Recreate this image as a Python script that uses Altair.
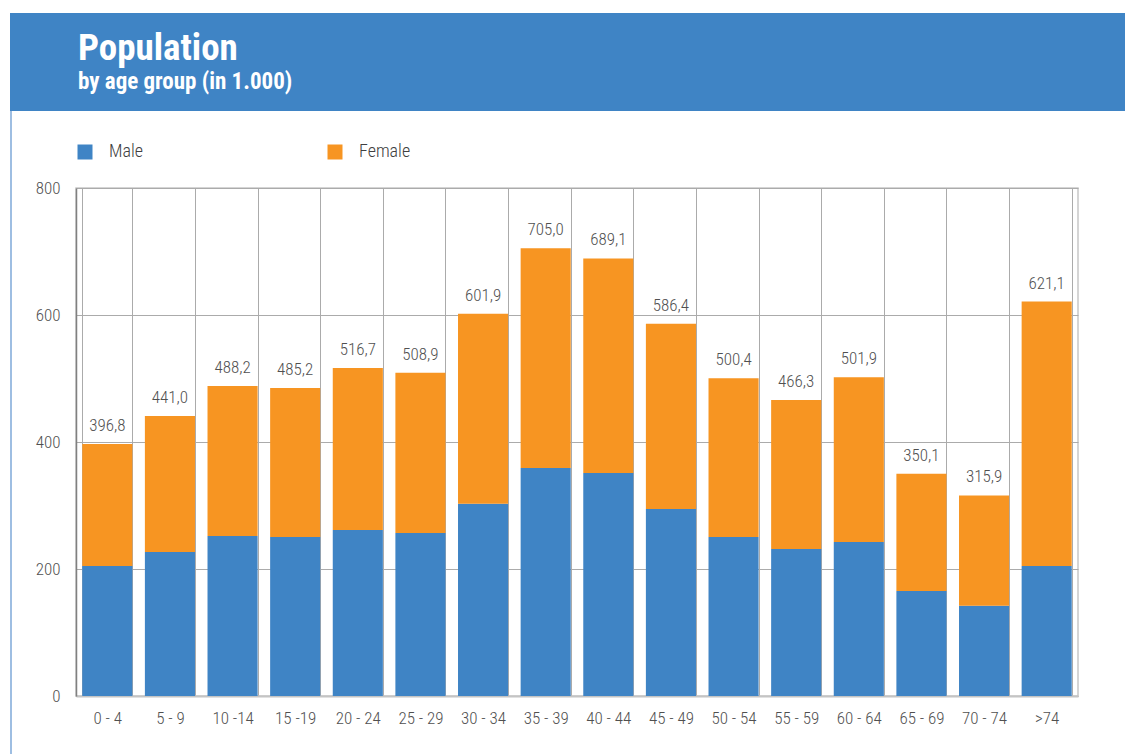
import altair as alt
import pandas as pd

ages = ["0 - 4", "5 - 9", "10 -14", "15 -19", "20 - 24", "25 - 29", "30 - 34", "35 - 39",
        "40 - 44", "45 - 49", "50 - 54", "55 - 59", "60 - 64", "65 - 69", "70 - 74", ">74"]
totals = [396.8, 441.0, 488.2, 485.2, 516.7, 508.9, 601.9, 705.0,
          689.1, 586.4, 500.4, 466.3, 501.9, 350.1, 315.9, 621.1]
male = [204.7, 226.8, 252.0, 250.4, 261.4, 256.7, 302.8, 359.0,
        351.0, 294.5, 250.4, 231.5, 242.5, 165.4, 142.2, 204.7]
series = ["Male", "Female"]
colors = ["#3F84C5", "#F79522"]
title_text = "Population"
subtitle_text = "by age group (in 1.000)"
y_ticks = [0, 200, 400, 600, 800]

FONT = "Liberation Sans Narrow, Roboto Condensed, DejaVu Sans Condensed, Roboto, sans-serif"
TXT = "#505050"

rows = []
for a, t, m in zip(ages, totals, male):
    rows.append({"age": a, "sex": "Male", "value": m, "ord": 0})
    rows.append({"age": a, "sex": "Female", "value": round(t - m, 1), "ord": 1})
bars_df = pd.DataFrame(rows)
tot_df = pd.DataFrame({"age": ages, "total": totals,
                       "label": [f"{t:.1f}".replace(".", ",") for t in totals]})
one = pd.DataFrame({"k": [0]})

x_enc = alt.X("age:N", sort=ages, title=None,
              scale=alt.Scale(paddingInner=0.2, paddingOuter=0.1),
              axis=alt.Axis(labelAngle=0, ticks=False, grid=True, tickBand="extent",
                            gridColor="#ababab", gridWidth=1, domainColor="#c4c4c4",
                            domainWidth=2, labelPadding=14, labelFontSize=17,
                            labelFontWeight=300, labelColor=TXT, labelFont=FONT))

bars = alt.Chart(bars_df).mark_bar().encode(
    x=x_enc,
    y=alt.Y("value:Q", stack="zero", title=None,
            scale=alt.Scale(domain=[0, 800], nice=False),
            axis=alt.Axis(values=y_ticks, ticks=False, grid=True, gridColor="#ababab",
                          domainColor="#808080", domainWidth=1.5, labelPadding=16,
                          labelFontSize=17, labelFontWeight=300, labelColor=TXT,
                          labelFont=FONT)),
    color=alt.Color("sex:N", scale=alt.Scale(domain=series, range=colors),
                    legend=alt.Legend(title=None, orient="none", legendX=0, legendY=-45,
                                      direction="horizontal", symbolType="square",
                                      symbolSize=225, symbolStrokeWidth=0,
                                      labelFontSize=18, labelFontWeight=300, labelFont=FONT,
                                      labelColor="#404040",
                                      labelOffset=15, gridAlign="all", columnPadding=165,
                                      padding=0)),
    order=alt.Order("ord:Q"),
)

labels = alt.Chart(tot_df).mark_text(baseline="bottom", dy=-9, fontSize=17, fontWeight=300,
                                     font=FONT, color=TXT).encode(
    x=alt.X("age:N", sort=ages),
    y=alt.Y("total:Q"),
    text="label:N",
)

header = alt.Chart(one).mark_rect(color="#3F84C5").encode(
    x=alt.value(-66), x2=alt.value(1060), y=alt.value(-175), y2=alt.value(-77))
border = alt.Chart(one).mark_rule(color="#7EA9D8", strokeWidth=1.5).encode(
    x=alt.value(-65), y=alt.value(-77), y2=alt.value(570))
title = alt.Chart(one).mark_text(align="left", baseline="alphabetic", fontSize=37,
                                 fontWeight="bold", font=FONT, color="white").encode(
    x=alt.value(2), y=alt.value(-128), text=alt.value(title_text))
subtitle = alt.Chart(one).mark_text(align="left", baseline="alphabetic", fontSize=23,
                                    fontWeight="bold", font=FONT, color="white").encode(
    x=alt.value(2), y=alt.value(-99), text=alt.value(subtitle_text))

chart = alt.layer(header, border, bars, labels, title, subtitle).resolve_scale(
    x="shared", y="shared"
).properties(
    width=1002, height=508,
    autosize=alt.AutoSizeParams(type="none"),
    padding={"left": 68, "top": 180, "right": 47, "bottom": 58},
    background="white",
).configure_view(stroke="#c8c8c8", strokeWidth=1.5)

chart.save("out.html", embed_options={"renderer": "svg", "actions": False})
